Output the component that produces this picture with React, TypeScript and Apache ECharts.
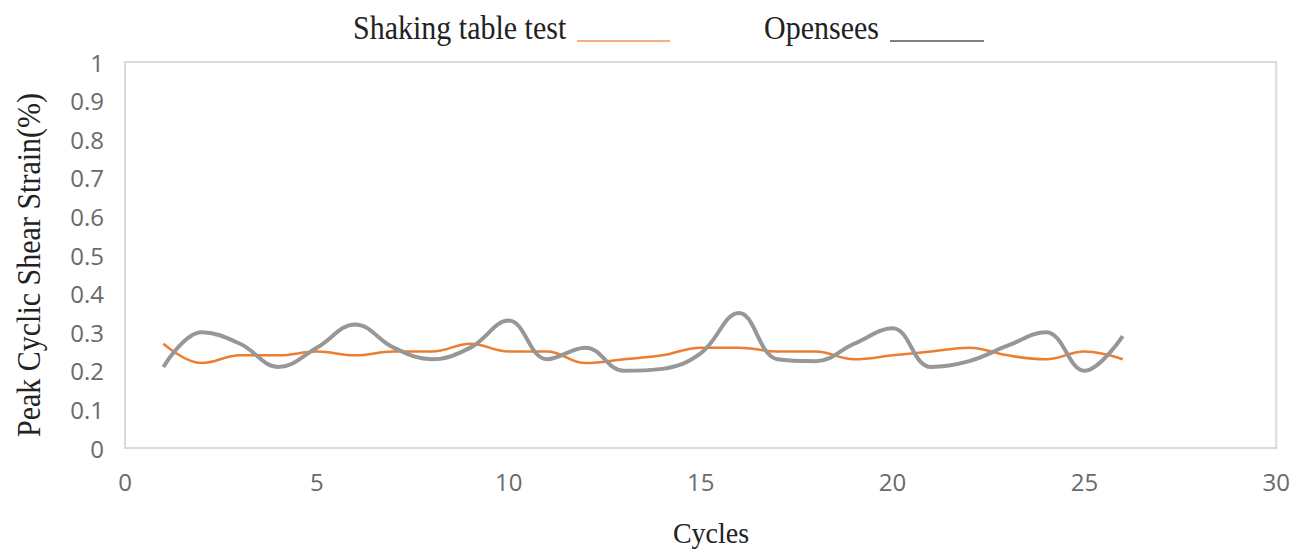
import React, { useEffect, useRef } from "react";
import * as echarts from "echarts";

const cycles = [1, 2, 3, 4, 5, 6, 7, 8, 9, 10, 11, 12, 13, 14, 15, 16, 17, 18, 19, 20, 21, 22, 23, 24, 25, 26];
const shakingTable = [0.27, 0.22, 0.24, 0.24, 0.25, 0.24, 0.25, 0.25, 0.27, 0.25, 0.25, 0.22, 0.23, 0.24, 0.26, 0.26, 0.25, 0.25, 0.23, 0.24, 0.25, 0.26, 0.24, 0.23, 0.25, 0.23];
const opensees = [0.21, 0.30, 0.27, 0.21, 0.26, 0.32, 0.26, 0.23, 0.26, 0.33, 0.23, 0.26, 0.20, 0.205, 0.245, 0.35, 0.23, 0.225, 0.27, 0.31, 0.21, 0.225, 0.265, 0.30, 0.20, 0.29];
const seriesNames = ["Shaking table test", "Opensees"];
const xAxisName = "Cycles";
const yAxisName = "Peak Cyclic Shear Strain(%)";

export default function App() {
  const ref = useRef<HTMLDivElement>(null);
  useEffect(() => {
    if (!ref.current) return;
    const chart = echarts.init(ref.current, null, { renderer: "svg" });
    const serif = "'Liberation Serif', 'Times New Roman', serif";
    const sans = "'Open Sans', 'Liberation Sans', sans-serif";
    const titleFont = `30px ${serif}`;
    const stretch = 1.12;
    chart.setOption({
      animation: false,
      backgroundColor: "#ffffff",
      grid: {
        left: 125,
        right: 16,
        top: 62,
        bottom: 103,
        show: true,
        borderColor: "#d9d9d9",
        borderWidth: 2,
      },
      xAxis: {
        type: "value",
        min: 0,
        max: 30,
        interval: 5,
        axisLine: { show: false },
        axisTick: { show: false },
        splitLine: { show: false },
        axisLabel: { color: "#6a6a6a", fontSize: 24, fontFamily: sans, margin: 21 },
      },
      yAxis: {
        type: "value",
        min: 0,
        max: 1,
        interval: 0.1,
        axisLine: { show: false },
        axisTick: { show: false },
        splitLine: { show: false },
        axisLabel: { color: "#6a6a6a", fontSize: 24, fontFamily: sans, margin: 21 },
      },
      graphic: [
        {
          type: "text",
          x: 353,
          y: 28,
          scaleY: stretch,
          style: {
            text: seriesNames[0],
            font: titleFont,
            fill: "#222222",
            verticalAlign: "middle",
          },
        },
        {
          type: "line",
          shape: { x1: 577, y1: 41, x2: 670, y2: 41 },
          style: { stroke: "#F0955A", lineWidth: 1.5 },
        },
        {
          type: "text",
          x: 764,
          y: 28,
          scaleY: stretch,
          style: {
            text: seriesNames[1],
            font: titleFont,
            fill: "#222222",
            verticalAlign: "middle",
          },
        },
        {
          type: "line",
          shape: { x1: 890, y1: 41, x2: 984, y2: 41 },
          style: { stroke: "#555555", lineWidth: 1.5 },
        },
        {
          type: "text",
          x: 711,
          y: 533,
          scaleY: 1.08,
          style: {
            text: xAxisName,
            font: `28px ${serif}`,
            fill: "#222222",
            align: "center",
            verticalAlign: "middle",
          },
        },
        {
          type: "text",
          x: 29,
          y: 265,
          rotation: Math.PI / 2,
          scaleY: stretch,
          style: {
            text: yAxisName,
            font: titleFont,
            fill: "#222222",
            align: "center",
            verticalAlign: "middle",
          },
        },
      ],
      series: [
        {
          name: seriesNames[0],
          type: "line",
          smooth: 0.4,
          showSymbol: false,
          lineStyle: { color: "#ED7D31", width: 2.5 },
          data: cycles.map((c, i) => [c, shakingTable[i]]),
        },
        {
          name: seriesNames[1],
          type: "line",
          smooth: 0.4,
          showSymbol: false,
          lineStyle: { color: "#979797", width: 4 },
          data: cycles.map((c, i) => [c, opensees[i]]),
        },
      ],
    });
    return () => chart.dispose();
  }, []);
  return (
    <div
      ref={ref}
      style={{ position: "absolute", left: 0, top: 0, width: 1293, height: 551 }}
    />
  );
}
